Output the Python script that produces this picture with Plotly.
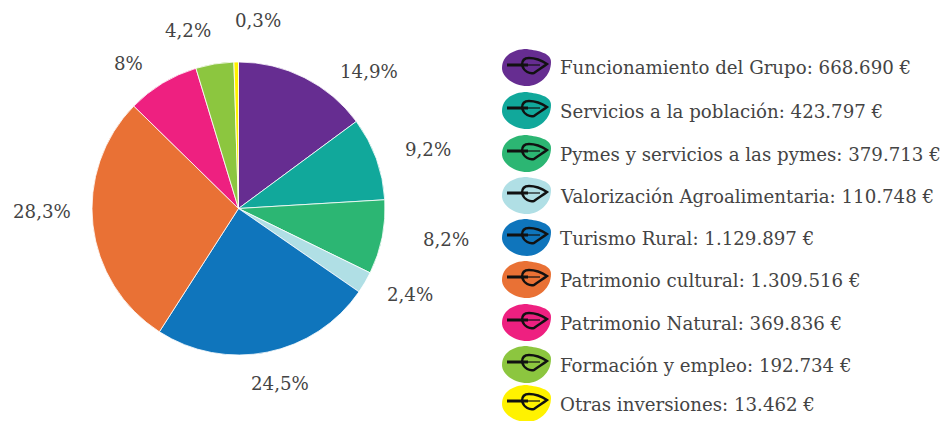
import plotly.graph_objects as go

W, H = 944, 421
categories = ["Funcionamiento del Grupo", "Servicios a la población", "Pymes y servicios a las pymes",
              "Valorización Agroalimentaria", "Turismo Rural", "Patrimonio cultural",
              "Patrimonio Natural", "Formación y empleo", "Otras inversiones"]
amounts = ["668.690", "423.797", "379.713", "110.748", "1.129.897", "1.309.516", "369.836", "192.734", "13.462"]
percents = [14.9, 9.2, 8.2, 2.4, 24.5, 28.3, 8, 4.2, 0.5]
percent_labels = ["14,9%", "9,2%", "8,2%", "2,4%", "24,5%", "28,3%", "8%", "4,2%", "0,3%"]
colors = ["#662D91", "#11A89B", "#2CB673", "#B0DFE5", "#0F75BC", "#E97135", "#EE2080", "#8CC63F", "#FFF200"]

label_xy = [(369, 71), (428, 149), (446, 239), (410, 294), (280, 383), (42, 211), (128, 63), (188, 30), (258, 21)]
legend_y = [68, 111, 154, 196, 238, 280, 323, 365, 404]
FONT = "DejaVu Serif"
TXT = "#444444"

fig = go.Figure(go.Pie(
    values=percents, labels=categories, sort=False, direction="clockwise", rotation=0,
    marker=dict(colors=colors, line=dict(color="white", width=0.8)),
    textinfo="none", hoverinfo="label+percent", showlegend=False,
    domain=dict(x=[92 / W, 385 / W], y=[1 - 355 / H, 1 - 62 / H]),
))

blob = "M -25 0 C -25 -10 -12 -18 0 -18 C 12 -18 24 -8 24 6 C 24 15 12 17 0 19 C -14 19 -25 12 -25 0 Z"
stem = "M -20 3 L 1 3"
rib = "M 1 3 L 13 3"
leaf = "M -5 3 C -3 -4 3 -6 7 -5 C 11 -2 16 1 20 4 C 14 8 7 10 2 10 C -3 10 -5 7 -5 3 Z"
shapes, annotations = [], []
for y, c, cat, amt in zip(legend_y, colors, categories, amounts):
    common = dict(type="path", xref="paper", yref="paper", xsizemode="pixel", ysizemode="pixel",
                  xanchor=527 / W, yanchor=1 - y / H)
    shapes.append(dict(path=blob, fillcolor=c, line=dict(width=0), **common))
    shapes.append(dict(path=leaf, fillcolor="rgba(0,0,0,0)", line=dict(color="#111", width=2.4), **common))
    shapes.append(dict(path=stem, line=dict(color="#111", width=3), **common))
    shapes.append(dict(path=rib, line=dict(color="#111", width=1.2), **common))
    annotations.append(dict(text=f"{cat}: {amt} €", x=558 / W, y=1 - y / H, xref="paper", yref="paper",
                            xanchor="left", yanchor="middle", showarrow=False,
                            font=dict(family=FONT, size=18.2, color=TXT)))
for (x, y), t in zip(label_xy, percent_labels):
    annotations.append(dict(text=t, x=x / W, y=1 - y / H, xref="paper", yref="paper",
                            xanchor="center", yanchor="middle", showarrow=False,
                            font=dict(family=FONT, size=18.2, color=TXT)))

fig.update_layout(width=W, height=H, margin=dict(l=0, r=0, t=0, b=0), paper_bgcolor="white",
                  shapes=shapes, annotations=annotations)
fig.write_html("out.html", config=dict(displayModeBar=False),
               post_script="document.body.style.margin='0';document.body.style.overflow='hidden';")
